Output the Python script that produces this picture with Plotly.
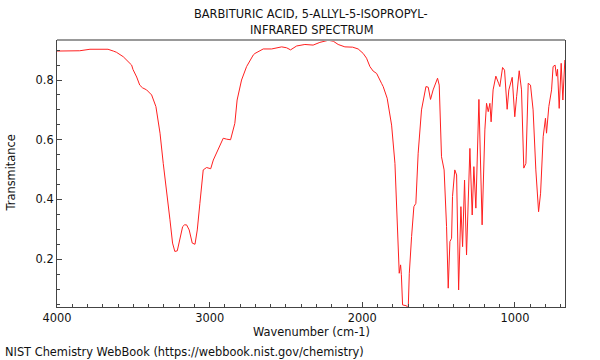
import plotly.graph_objects as go

wavenumber = [
    4000, 3900, 3851, 3784, 3742, 3697, 3666, 3631, 3611, 3566, 3545, 3511, 3502,
    3478, 3458, 3440, 3413, 3393, 3380, 3352, 3325, 3304, 3282, 3260, 3243, 3228,
    3212, 3195, 3177, 3165, 3151, 3134, 3114, 3096, 3081, 3064, 3042, 3020, 2993,
    2976, 2944, 2911, 2889, 2863, 2835, 2820, 2791, 2758, 2714, 2703, 2649, 2594,
    2528, 2496, 2470, 2430, 2376, 2322, 2278, 2223, 2190, 2158, 2114, 2063, 2027,
    1994, 1972, 1950, 1929, 1906, 1874, 1863, 1837, 1808, 1786, 1771, 1758, 1749,
    1744, 1736, 1710, 1699, 1692, 1677, 1662, 1649, 1634, 1612, 1583, 1568, 1553,
    1536, 1518, 1507, 1496, 1481, 1464, 1448, 1437, 1426, 1415, 1409, 1394, 1382,
    1369, 1354, 1343, 1330, 1317, 1295, 1280, 1269, 1256, 1236, 1215, 1197, 1186,
    1175, 1164, 1156, 1143, 1125, 1107, 1099, 1081, 1068, 1051, 1040, 1018, 1001,
    989, 972, 957, 942, 928, 913, 898, 881, 863, 845, 832, 815, 800, 793, 778,
    760, 750, 737, 728, 721, 710, 697, 686, 673,
]
transmittance = [
    0.897, 0.897, 0.898, 0.903, 0.903, 0.903, 0.903, 0.897, 0.893, 0.878, 0.867, 0.850, 0.835,
    0.810, 0.783, 0.774, 0.767, 0.757, 0.750, 0.711, 0.622, 0.521, 0.432, 0.332, 0.254, 0.226,
    0.228, 0.265, 0.309, 0.315, 0.315, 0.298, 0.254, 0.250, 0.298, 0.387, 0.499, 0.507, 0.503,
    0.532, 0.571, 0.605, 0.602, 0.600, 0.655, 0.733, 0.800, 0.845, 0.884, 0.889, 0.904, 0.904,
    0.911, 0.908, 0.901, 0.914, 0.919, 0.917, 0.926, 0.933, 0.930, 0.919, 0.911, 0.910, 0.904,
    0.889, 0.873, 0.845, 0.830, 0.822, 0.789, 0.778, 0.739, 0.649, 0.521, 0.343, 0.153, 0.181,
    0.148, 0.047, 0.044, 0.036, 0.153, 0.276, 0.376, 0.387, 0.555, 0.700, 0.778, 0.776, 0.735,
    0.767, 0.789, 0.806, 0.783, 0.543, 0.499, 0.309, 0.103, 0.259, 0.270, 0.410, 0.499, 0.482,
    0.097, 0.376, 0.242, 0.465, 0.214, 0.571, 0.348, 0.510, 0.371, 0.735, 0.315, 0.633, 0.722,
    0.694, 0.722, 0.660, 0.767, 0.813, 0.789, 0.778, 0.842, 0.833, 0.702, 0.767, 0.809, 0.677,
    0.744, 0.831, 0.767, 0.505, 0.521, 0.789, 0.783, 0.700, 0.499, 0.359, 0.421, 0.610, 0.672, 0.622, 0.711,
    0.767, 0.845, 0.850, 0.813, 0.836, 0.705, 0.856, 0.733, 0.867,
]

title_lines = ["BARBITURIC ACID, 5-ALLYL-5-ISOPROPYL-", "INFRARED SPECTRUM"]
x_title = "Wavenumber (cm-1)"
y_title = "Transmitance"
credit = "NIST Chemistry WebBook (https://webbook.nist.gov/chemistry)"

FONT = "DejaVu Sans"
FS = 11.4

fig = go.Figure()
fig.add_trace(go.Scatter(
    x=wavenumber, y=transmittance, mode="lines",
    line=dict(color="#ff2020", width=1), showlegend=False,
))

axis_common = dict(
    showgrid=False, zeroline=False, showline=True, linecolor="#444", linewidth=1,
    ticks="inside", tickcolor="#444", tickfont=dict(family=FONT, size=FS, color="#111"),
)
fig.update_xaxes(
    range=[4000, 672], dtick=1000, tick0=0, ticklen=5, mirror=False,
    minor=dict(dtick=100, tick0=0, ticks="inside", ticklen=3, tickcolor="#444"),
    **axis_common,
)
fig.update_yaxes(
    range=[0.04, 0.934], dtick=0.2, tick0=0, ticklen=5, mirror=True,
    minor=dict(dtick=0.05, tick0=0, ticks="inside", ticklen=3, tickcolor="#444"),
    **axis_common,
)

annots = [
    dict(text=title_lines[0], x=0.5, y=1.0974, xref="paper", yref="paper",
         showarrow=False, xanchor="center", yanchor="middle",
         font=dict(family=FONT, size=FS, color="#111")),
    dict(text=title_lines[1], x=0.5, y=1.0375, xref="paper", yref="paper",
         showarrow=False, xanchor="center", yanchor="middle",
         font=dict(family=FONT, size=FS, color="#111")),
    dict(text=x_title, x=0.5, y=-0.0936, xref="paper", yref="paper",
         showarrow=False, xanchor="center", yanchor="middle",
         font=dict(family=FONT, size=FS, color="#111")),
    dict(text=y_title, x=-0.0925, y=0.5, xref="paper", yref="paper", textangle=-90,
         showarrow=False, xanchor="center", yanchor="middle",
         font=dict(family=FONT, size=FS, color="#111")),
    dict(text=credit, x=-0.107, y=-0.1685, xref="paper", yref="paper",
         showarrow=False, xanchor="left", yanchor="middle",
         font=dict(family=FONT, size=FS, color="#111")),
]

fig.update_layout(
    width=600, height=360,
    margin=dict(l=57, r=35, t=40, b=53, autoexpand=False),
    paper_bgcolor="white", plot_bgcolor="white",
    annotations=annots,
    shapes=[dict(type="line", xref="paper", yref="paper", x0=0, x1=1, y0=1, y1=1,
                 line=dict(color="#999", width=2))],
)

fig.write_html("out.html", config={"displayModeBar": False},
               post_script="document.body.style.margin='0';")
